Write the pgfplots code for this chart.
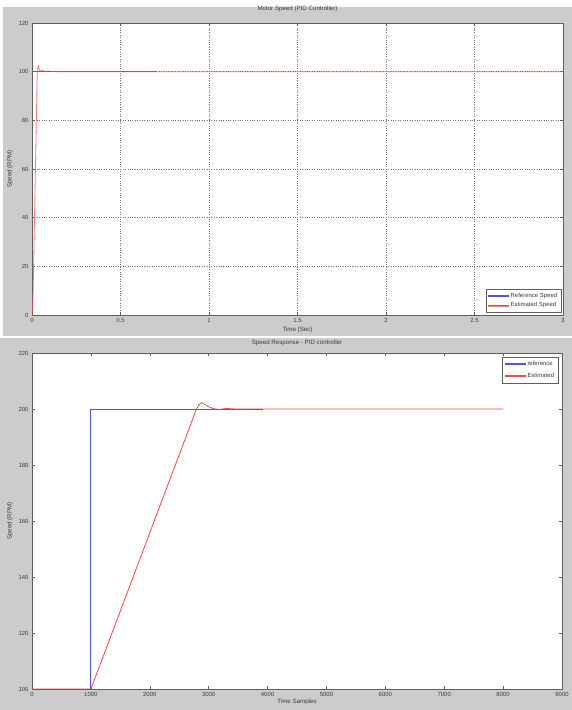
\documentclass[border=0pt]{standalone}
\usepackage{fontspec}
\setmainfont{Liberation Sans}
\usepackage{pgfplots}
\pgfplotsset{compat=1.18}
\definecolor{figgray}{RGB}{204,204,204}
\definecolor{mblue}{RGB}{80,80,255}
\definecolor{mred}{RGB}{255,70,70}
\definecolor{axgray}{RGB}{95,95,95}
\definecolor{txtgray}{RGB}{60,60,60}
\pgfplotsset{
  mstyle/.style={
    scale only axis,
    axis background/.style={fill=white},
    axis line style={axgray, line width=0.7bp},
    tick style={axgray, line width=0.5bp},
    major tick length=3bp,
    tick align=inside,
    scaled ticks=false,
    /pgf/number format/1000 sep={},
    /pgf/number format/assume math mode=true,
    every tick label/.append style={font=\fontsize{6}{7}\selectfont, text=txtgray},
    label style={font=\fontsize{6.2}{7}\selectfont, text=txtgray, inner sep=0pt},
    title style={font=\fontsize{6.2}{7}\selectfont, text=txtgray, inner sep=0pt},
    legend style={font=\fontsize{6}{7}\selectfont, text=txtgray, draw=axgray, line width=0.5bp, inner sep=1.5bp, row sep=-1bp, cells={anchor=west}},
  },
  blueleg/.style={legend image code/.code={\color{mblue}\fill[mblue] (0bp,-0.45bp) rectangle (20bp,0.45bp);}},
  redleg/.style={legend image code/.code={\color{mred}\fill[mred] (0bp,-0.45bp) rectangle (20bp,0.45bp);}},
}
\begin{document}
\begin{tikzpicture}
\fill[white] (0bp,0bp) rectangle (572bp,710bp);
\fill[figgray] (3bp,374bp) rectangle (572bp,703bp);
\fill[figgray] (0bp,0bp) rectangle (572bp,372bp);

% Top panel
\begin{axis}[mstyle,
  at={(32bp,395bp)}, anchor=south west,
  width=531bp, height=292bp,
  xmin=0, xmax=3, ymin=0, ymax=120,
  xtick={0,0.5,1,1.5,2,2.5,3},
  xticklabels={0,0.5,1,1.5,2,2.5,3},
  ytick={0,20,40,60,80,100,120},
  grid=major,
  major grid style={black!55, dotted, line width=0.5bp},
  title={Motor Speed (PID Controller)},
  title style={at={(axis description cs:0.5,1)}, anchor=center, yshift=8bp},
  xlabel={Time (Sec)},
  xlabel style={at={(axis description cs:0.5,0)}, anchor=center, yshift=-15bp},
  ylabel={Speed (RPM)},
  ylabel style={at={(axis description cs:-0.0414,0.5)}, anchor=center},
  legend style={at={(axis description cs:0.997,0.008)}, anchor=south east, inner sep=2bp, row sep=0bp},
]
\addplot[draw=mblue, line width=0.8bp, blueleg] coordinates {(0,100) (0.7,100)};
\addlegendentry{Reference Speed}
\addplot[draw=mred, line width=0.8bp, draw opacity=0.75, redleg] coordinates {
  (0,0) (0.006,8) (0.030,101) (0.036,102.3) (0.042,100.6) (0.050,100.2)
  (0.060,100.6) (0.070,100.1) (0.090,100.3) (0.120,100) (3,100)};
\addlegendentry{Estimated Speed}
\end{axis}

% Bottom panel
\begin{axis}[mstyle,
  at={(32bp,21bp)}, anchor=south west,
  width=530bp, height=336bp,
  xmin=0, xmax=9000, ymin=100, ymax=220,
  xtick={0,1000,2000,3000,4000,5000,6000,7000,8000,9000},
  ytick={100,120,140,160,180,200,220},
  title={Speed Response - PID controller},
  title style={at={(axis description cs:0.5,1)}, anchor=center, yshift=4bp},
  xlabel={Time Samples},
  xlabel style={at={(axis description cs:0.5,0)}, anchor=center, yshift=-13bp},
  ylabel={Speed (RPM)},
  ylabel style={at={(axis description cs:-0.0415,0.5)}, anchor=center},
  legend style={at={(axis description cs:0.994,0.989)}, anchor=north east, inner sep=2.5bp, row sep=2bp},
]
\addplot[draw=mred, line width=0.8bp, forget plot] coordinates {
  (0,100) (1000,100) (2780,199.3) (2830,201.5) (2880,202.2) (2940,201.6)
  (3000,200.8) (3080,200.1) (3180,199.8) (3300,200.2) (3450,200) (8000,200)};
\addplot[draw=mblue, line width=0.8bp, blueleg] coordinates {(0,100) (1000,100) (1000,200) (3920,200)};
\addlegendentry{reference}
\addlegendimage{redleg}
\addlegendentry{Estimated}
\end{axis}
\end{tikzpicture}
\end{document}
